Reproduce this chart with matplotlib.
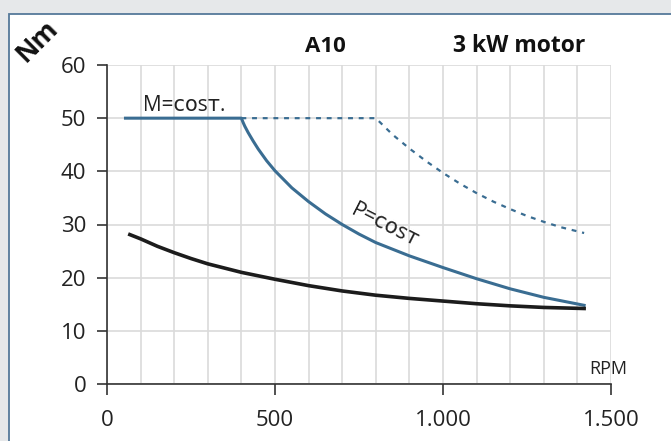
import matplotlib
matplotlib.use("Agg")
import matplotlib.pyplot as plt
from matplotlib.patches import Rectangle
from matplotlib.ticker import MultipleLocator, FuncFormatter

plt.rcParams['font.family'] = ['Open Sans', 'DejaVu Sans']

# curves (RPM, N m)
pcost_rpm = [55, 400, 405, 410, 420, 435, 450, 475, 500, 550, 600, 650, 700, 750, 800,
             900, 1000, 1100, 1200, 1300, 1420]
pcost_nm = [50, 50, 49.2, 48.5, 47.3, 45.7, 44.2, 42.0, 40.1, 36.9, 34.3, 32.0, 30.0, 28.2, 26.6,
            24.1, 21.9, 19.8, 17.9, 16.3, 14.8]

dotted_rpm = [400, 800, 850, 900, 950, 1000, 1050, 1100, 1150, 1200, 1250, 1300, 1350, 1420]
dotted_nm = [50, 50, 46.9, 44.3, 41.9, 39.7, 37.7, 35.9, 34.3, 32.9, 31.6, 30.5, 29.5, 28.4]

load_rpm = [68, 100, 150, 200, 250, 300, 400, 500, 600, 700, 800, 900, 1000, 1100, 1200, 1300, 1420]
load_nm = [28.1, 27.3, 25.9, 24.7, 23.6, 22.6, 21.0, 19.7, 18.5, 17.5, 16.7, 16.1, 15.6, 15.1, 14.7, 14.4, 14.2]

xticks = [0, 500, 1000, 1500]
yticks = [0, 10, 20, 30, 40, 50, 60]

blue = '#3a6d92'
dark = '#1c1c1c'

fig = plt.figure(figsize=(6.71, 4.41), dpi=100)
fig.patch.set_facecolor('#e6e8ea')
panel = Rectangle((9 / 671, -0.1), 1.2, 1 - 14 / 441 + 0.1, transform=fig.transFigure,
                  facecolor='white', edgecolor='#55799a', lw=1.3, zorder=-1)
fig.add_artist(panel)

ax = fig.add_axes([107 / 671, 57 / 441, 504 / 671, 319 / 441])
ax.set_facecolor('none')

ax.plot(dotted_rpm, dotted_nm, color=blue, lw=1.6, ls=(0, (2.2, 2.6)), zorder=3)
ax.plot(pcost_rpm, pcost_nm, color=blue, lw=2.2, zorder=4, solid_joinstyle='round')
ax.plot(load_rpm, load_nm, color=dark, lw=2.6, zorder=4, solid_joinstyle='round')

ax.set_xlim(0, 1500)
ax.set_ylim(0, 60)
ax.set_xticks(xticks)
ax.set_yticks(yticks)
ax.xaxis.set_minor_locator(MultipleLocator(100))
ax.xaxis.set_major_formatter(FuncFormatter(lambda v, p: f"{int(v):,}".replace(',', '.')))
ax.grid(True, which='both', color='#dadada', lw=1.2)
ax.set_axisbelow(True)
ax.tick_params(which='minor', length=0)
ax.tick_params(axis='y', length=7, width=1.2, pad=8, labelsize=16, colors='#333333', labelcolor='#222222')
ax.tick_params(axis='x', length=8, width=1.2, pad=11, labelsize=16, colors='#333333', labelcolor='#222222')
for s in ['top', 'right']:
    ax.spines[s].set_visible(False)
for s in ['left', 'bottom']:
    ax.spines[s].set_color('#333333')
    ax.spines[s].set_linewidth(1.2)

ax.text(107, 51.4, 'M=ᴄᴏsᴛ.', fontsize=15, color='#222222', va='baseline', ha='left')
ax.text(827, 29.7, 'P=ᴄᴏsᴛ', fontsize=15.5, color='#222222', ha='center', va='center',
        rotation=-27, rotation_mode='anchor')
ax.text(1491, 1.9, 'RPM', fontsize=13, color='#222222', ha='center', va='baseline')

fig.text(37 / 671, 1 - 41 / 441, 'Nm', fontsize=19, fontweight='bold', rotation=45,
         ha='center', va='center', color='#111111')
fig.text(325 / 671, 1 - 46 / 441, 'A10', fontsize=16, fontweight='bold', ha='center', va='center',
         color='#111111')
fig.text(519 / 671, 1 - 46 / 441, '3 kW motor', fontsize=16.5, fontweight='bold', ha='center',
         va='center', color='#111111')

fig.savefig('out.png', dpi=100, facecolor=fig.get_facecolor())
